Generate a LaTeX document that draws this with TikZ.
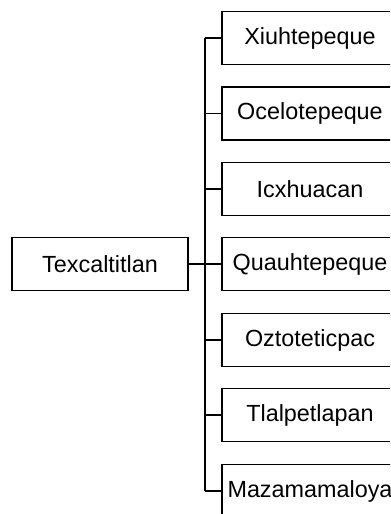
\documentclass[tikz,border=0pt]{standalone}
\usepackage{fontspec}
\setmainfont{Liberation Sans}
\usetikzlibrary{positioning}

\begin{document}
\begin{tikzpicture}[x=0.02cm, y=-0.02cm,
  every node/.style={font=\fontsize{13.3}{15}\selectfont},
  place/.style={draw, line width=1.1pt, minimum width=3.52cm, minimum height=1.06cm, inner sep=0pt}]
  \useasboundingbox (0,0) rectangle (390,514);
  \clip (0,0) rectangle (390,514);
  \node[place] (root) at (100,264) {Texcaltitlan};
  \coordinate (bus) at (205,264);
  % towns under Texcaltitlan, top to bottom
  \foreach \i/\name/\y in {1/Xiuhtepeque/38, 2/Ocelotepeque/113.5, 3/Icxhuacan/189,
      4/Quauhtepeque/264, 5/Oztoteticpac/340, 6/Tlalpetlapan/415, 7/Mazamamaloya/491}{
    \node[place] (t\i) at (310,\y) {\name};
    \draw[line width=1.1pt] (bus |- t\i.west) -- (t\i.west);
  }
  \draw[line width=1.6pt] (bus |- t1.west) -- (bus |- t7.west);
  \draw[line width=1.6pt] (root.east) -- (bus);
\end{tikzpicture}
\end{document}
